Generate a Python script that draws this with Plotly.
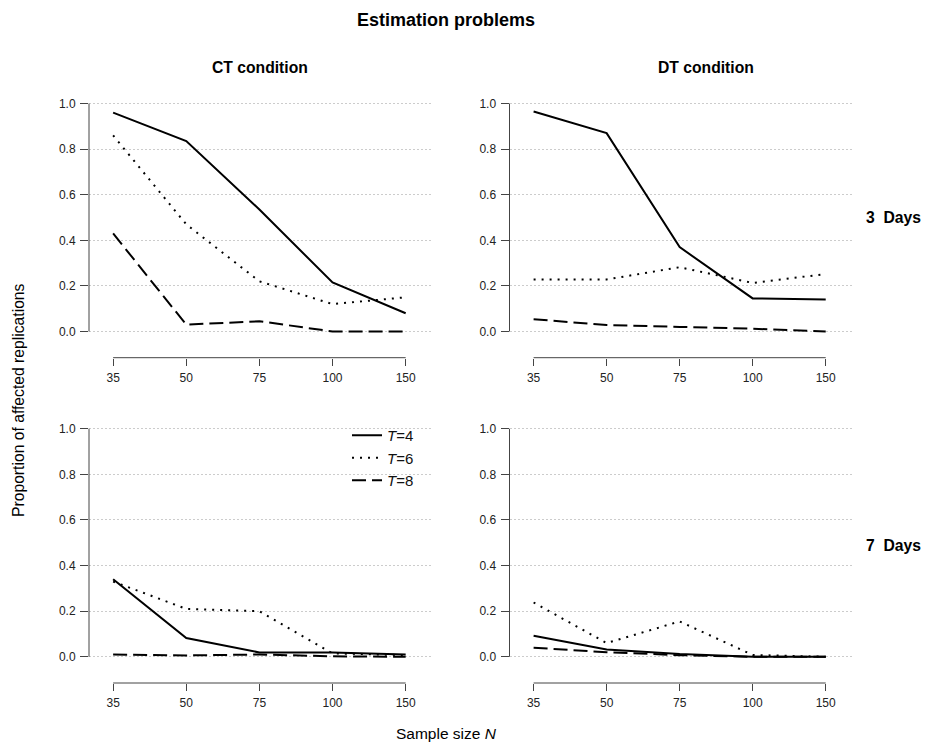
import plotly.graph_objects as go

# ---------------- data ----------------
N_LABELS = ["35", "50", "75", "100", "150"]
SERIES = ["T=4", "T=6", "T=8"]
SERIES_TEXT = ["<i>T</i>=4", "<i>T</i>=6", "<i>T</i>=8"]
Y_TICKS = [0.0, 0.2, 0.4, 0.6, 0.8, 1.0]

ct_3days_T4 = [0.96, 0.835, 0.535, 0.215, 0.08]
ct_3days_T6 = [0.86, 0.47, 0.22, 0.12, 0.15]
ct_3days_T8 = [0.43, 0.03, 0.045, 0.0, 0.0]

dt_3days_T4 = [0.965, 0.87, 0.37, 0.145, 0.14]
dt_3days_T6 = [0.228, 0.228, 0.282, 0.213, 0.252]
dt_3days_T8 = [0.054, 0.028, 0.02, 0.012, 0.0]

ct_7days_T4 = [0.34, 0.082, 0.019, 0.019, 0.01]
ct_7days_T6 = [0.33, 0.21, 0.20, 0.015, 0.007]
ct_7days_T8 = [0.01, 0.006, 0.01, 0.002, 0.0]

dt_7days_T4 = [0.092, 0.032, 0.012, 0.0, 0.0]
dt_7days_T6 = [0.238, 0.06, 0.155, 0.008, 0.0]
dt_7days_T8 = [0.04, 0.02, 0.007, 0.0, 0.0]

PANELS = [
    ("x", "y", [ct_3days_T4, ct_3days_T6, ct_3days_T8]),
    ("x2", "y2", [dt_3days_T4, dt_3days_T6, dt_3days_T8]),
    ("x3", "y3", [ct_7days_T4, ct_7days_T6, ct_7days_T8]),
    ("x4", "y4", [dt_7days_T4, dt_7days_T6, dt_7days_T8]),
]
LEGEND_PANEL = 2

# ---------------- style ----------------
W, H = 925, 747
FONT = "Liberation Sans, Arial, sans-serif"
DASHES = ["solid", "2px,6px", "14px,6px"]
AXCOL = "#444444"

def px_x(p):
    return p / W

def px_y(p):
    return 1 - p / H

X_DOMAINS = [[px_x(89), px_x(432)], [px_x(509.5), px_x(852)]]
Y_DOMAINS = [[px_y(357.7), px_y(97.6)], [px_y(683), px_y(422.8)]]

fig = go.Figure()

for i, (xa, ya, vals) in enumerate(PANELS):
    for j, s in enumerate(SERIES):
        fig.add_trace(go.Scatter(
            x=N_LABELS, y=vals[j], mode="lines",
            line=dict(color="black", width=2, dash=DASHES[j]),
            name=SERIES_TEXT[j], legendgroup=s,
            showlegend=(i == LEGEND_PANEL),
            xaxis=xa, yaxis=ya, hoverinfo="skip",
        ))

layout = dict(
    width=W, height=H,
    margin=dict(l=0, r=0, t=0, b=0),
    paper_bgcolor="white", plot_bgcolor="white",
    font=dict(family=FONT, color="#111111"),
    legend=dict(
        x=px_x(347), y=px_y(419), xanchor="left", yanchor="top",
        bgcolor="rgba(0,0,0,0)", font=dict(size=15, family=FONT, color="#111111"),
        tracegroupgap=0, borderwidth=0,
    ),
)

for i, (xa, ya, vals) in enumerate(PANELS):
    col = i % 2
    row = i // 2
    xkey = "xaxis" + ("" if i == 0 else str(i + 1))
    ykey = "yaxis" + ("" if i == 0 else str(i + 1))
    layout[xkey] = dict(
        domain=X_DOMAINS[col], anchor=ya, type="category",
        categoryorder="array", categoryarray=N_LABELS,
        range=[-0.33, len(N_LABELS) - 1 + 0.36],
        showgrid=False, zeroline=False, showline=False,
        ticks="outside", ticklen=7, tickcolor=AXCOL, tickwidth=1,
        tickfont=dict(size=12, color="#222222", family=FONT),
        ticklabelstandoff=2,
    )
    layout[ykey] = dict(
        domain=Y_DOMAINS[row], anchor=xa,
        range=[-0.115, 1.026],
        tickvals=Y_TICKS, tickformat=".1f",
        showgrid=True, gridcolor="#cccccc", griddash="2px,2px", gridwidth=1,
        zeroline=False, showline=False,
        ticks="outside", ticklen=8, tickcolor=AXCOL, tickwidth=1,
        tickfont=dict(size=12, color="#222222", family=FONT),
        ticklabelstandoff=2,
    )

fig.update_layout(**layout)

# detached R-style axis lines
for i, (xa, ya, vals) in enumerate(PANELS):
    fig.add_shape(type="line", xref=xa + " domain", yref=ya,
                  x0=0, x1=0, y0=Y_TICKS[0], y1=Y_TICKS[-1],
                  line=dict(color=AXCOL, width=1))
    fig.add_shape(type="line", xref=xa, yref=ya + " domain",
                  x0=0, x1=len(N_LABELS) - 1, y0=0, y1=0,
                  line=dict(color=AXCOL, width=1))

def ann(text, x, y, size, bold=False, angle=0):
    fig.add_annotation(
        text=("<b>%s</b>" % text) if bold else text,
        x=px_x(x), y=px_y(y), xref="paper", yref="paper",
        xanchor="center", yanchor="middle", showarrow=False, textangle=angle,
        font=dict(size=size, family=FONT, color="#000000"),
    )

ann("Estimation problems", 446, 20, 18, bold=True)
ann("CT condition", 260, 67, 15.7, bold=True)
ann("DT condition", 706, 67, 15.7, bold=True)
ann("3  Days", 893, 217, 15.7, bold=True)
ann("7  Days", 893, 545, 15.7, bold=True)
ann("Sample size <i>N</i>", 446, 733, 15.5)
ann("Proportion of affected replications", 18, 400, 15.7, angle=-90)

fig.write_html("out.html")
